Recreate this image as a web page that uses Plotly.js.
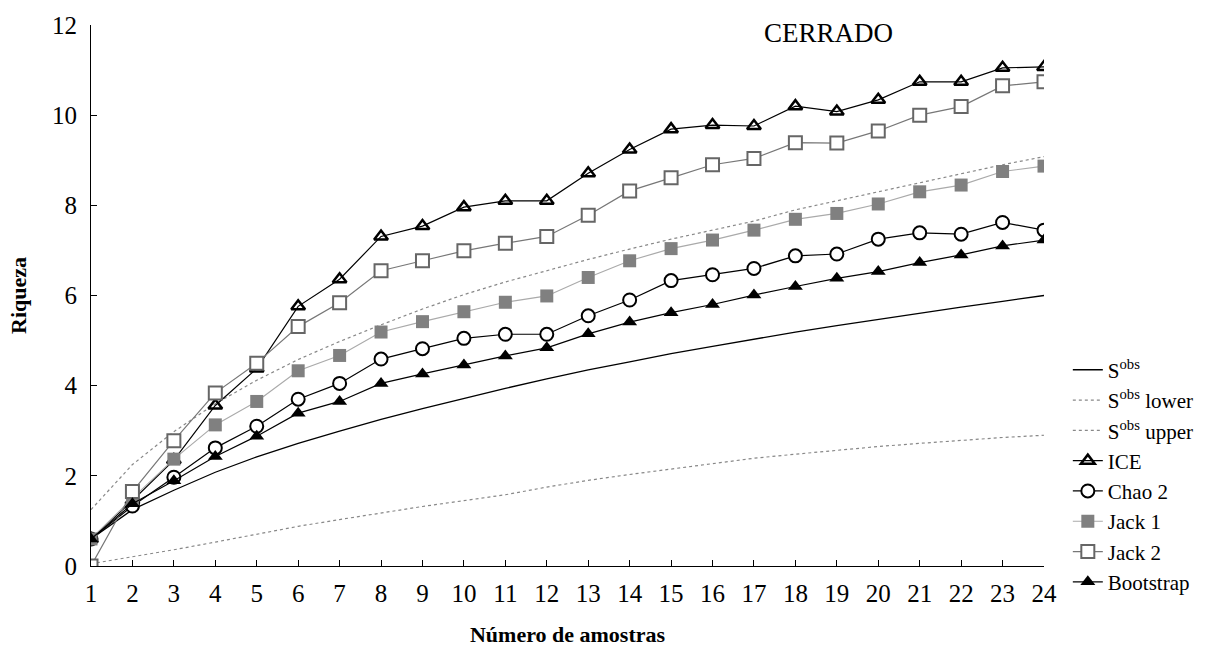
<!DOCTYPE html>
<html><head><meta charset="utf-8">
<script src="https://cdn.plot.ly/plotly-3.0.1.min.js"></script>
<style>body{margin:0;background:#fff}#chart{width:1227px;height:650px}</style>
</head><body><div id="chart"></div>
<script>
const samples = [1,2,3,4,5,6,7,8,9,10,11,12,13,14,15,16,17,18,19,20,21,22,23,24];
const sobs      = [0.6,1.25,1.68,2.08,2.42,2.72,2.99,3.25,3.49,3.72,3.94,4.15,4.35,4.53,4.71,4.87,5.03,5.19,5.33,5.47,5.61,5.74,5.87,6.0];
const sobsLower = [0.05,0.2,0.36,0.53,0.7,0.88,1.03,1.18,1.32,1.45,1.58,1.75,1.9,2.03,2.15,2.27,2.39,2.48,2.57,2.65,2.72,2.79,2.85,2.9];
const sobsUpper = [1.25,2.25,2.98,3.6,4.12,4.58,4.98,5.35,5.7,6.02,6.3,6.55,6.8,7.03,7.25,7.45,7.65,7.9,8.1,8.3,8.5,8.7,8.9,9.08];
const ice       = [0.6,1.45,2.35,3.56,4.38,5.76,6.36,7.31,7.54,7.96,8.1,8.1,8.71,9.24,9.69,9.78,9.76,10.2,10.08,10.34,10.74,10.74,11.05,11.07];
const chao2     = [0.6,1.33,1.97,2.62,3.1,3.7,4.05,4.59,4.82,5.05,5.14,5.14,5.55,5.9,6.33,6.46,6.6,6.88,6.92,7.25,7.39,7.36,7.62,7.45];
const jack1     = [0.6,1.5,2.37,3.13,3.65,4.33,4.67,5.19,5.42,5.64,5.85,5.99,6.4,6.77,7.04,7.23,7.45,7.69,7.82,8.03,8.3,8.45,8.75,8.87];
const jack2     = [0.0,1.65,2.78,3.84,4.5,5.31,5.84,6.55,6.77,6.99,7.16,7.31,7.78,8.32,8.61,8.9,9.04,9.39,9.38,9.65,10.0,10.19,10.65,10.74];
const bootstrap = [0.6,1.38,1.89,2.43,2.88,3.39,3.65,4.05,4.26,4.46,4.66,4.84,5.15,5.41,5.62,5.8,6.01,6.2,6.38,6.53,6.73,6.9,7.1,7.23];
const names = ['S<sup>obs</sup>','S<sup>obs</sup> lower','S<sup>obs</sup> upper','ICE','Chao 2','Jack 1','Jack 2','Bootstrap'];

const traces = [
  {x:samples,y:sobs,name:names[0],mode:'lines',line:{color:'#000',width:1.3}},
  {x:samples,y:sobsLower,name:names[1],mode:'lines',line:{color:'#888',width:1.2,dash:'dot'}},
  {x:samples,y:sobsUpper,name:names[2],mode:'lines',line:{color:'#888',width:1.2,dash:'dot'}},
  {x:samples,y:ice,name:names[3],mode:'lines+markers',line:{color:'#000',width:1.2},
    marker:{symbol:'triangle-up-open',size:12,color:'#000',line:{width:2.5,color:'#000'}}},
  {x:samples,y:chao2,name:names[4],mode:'lines+markers',line:{color:'#000',width:1.2},
    marker:{symbol:'circle',size:13,color:'#fff',line:{width:2,color:'#000'}}},
  {x:samples,y:jack1,name:names[5],mode:'lines+markers',line:{color:'#aaa',width:1.2},
    marker:{symbol:'square',size:13,color:'#808080',line:{width:0}}},
  {x:samples,y:jack2,name:names[6],mode:'lines+markers',line:{color:'#777',width:1.2},
    marker:{symbol:'square',size:13,color:'#fff',line:{width:2,color:'#666'}}},
  {x:samples,y:bootstrap,name:names[7],mode:'lines+markers',line:{color:'#000',width:1.2},
    marker:{symbol:'triangle-up',size:13,color:'#000',line:{width:0}}}
];

const font = {family:'Liberation Serif, serif', color:'#000'};
const layout = {
  width:1227, height:650,
  margin:{l:91,r:183,t:25,b:84},
  paper_bgcolor:'#fff', plot_bgcolor:'#fff',
  font:Object.assign({size:24},font),
  showlegend:true,
  legend:{x:1.025,xanchor:'left',y:0.40,yanchor:'top',font:Object.assign({size:21},font),
    tracegroupgap:0,itemwidth:30,bgcolor:'rgba(0,0,0,0)'},
  xaxis:{range:[1,24],tickvals:samples,ticktext:samples.map(String),showgrid:false,zeroline:false,
    showline:true,linecolor:'#000',linewidth:1,ticks:'inside',ticklen:6,tickcolor:'#000',
    ticklabelstandoff:5,tickfont:Object.assign({size:25},font),
    title:{text:'<b>Número de amostras</b>',font:Object.assign({size:22},font),standoff:20}},
  yaxis:{range:[0,12],dtick:2,tick0:0,showgrid:false,zeroline:false,
    showline:true,linecolor:'#000',linewidth:1,ticks:'inside',ticklen:6,tickcolor:'#000',
    ticklabelstandoff:8,tickfont:Object.assign({size:25},font),
    title:{text:'<b>Riqueza</b>',font:Object.assign({size:22},font),standoff:19}},
  annotations:[{text:'CERRADO',x:0.774,y:0.986,xref:'paper',yref:'paper',xanchor:'center',yanchor:'middle',
    showarrow:false,font:Object.assign({size:27},font)}]
};
Plotly.newPlot('chart',traces,layout,{displayModeBar:false});
</script></body></html>
